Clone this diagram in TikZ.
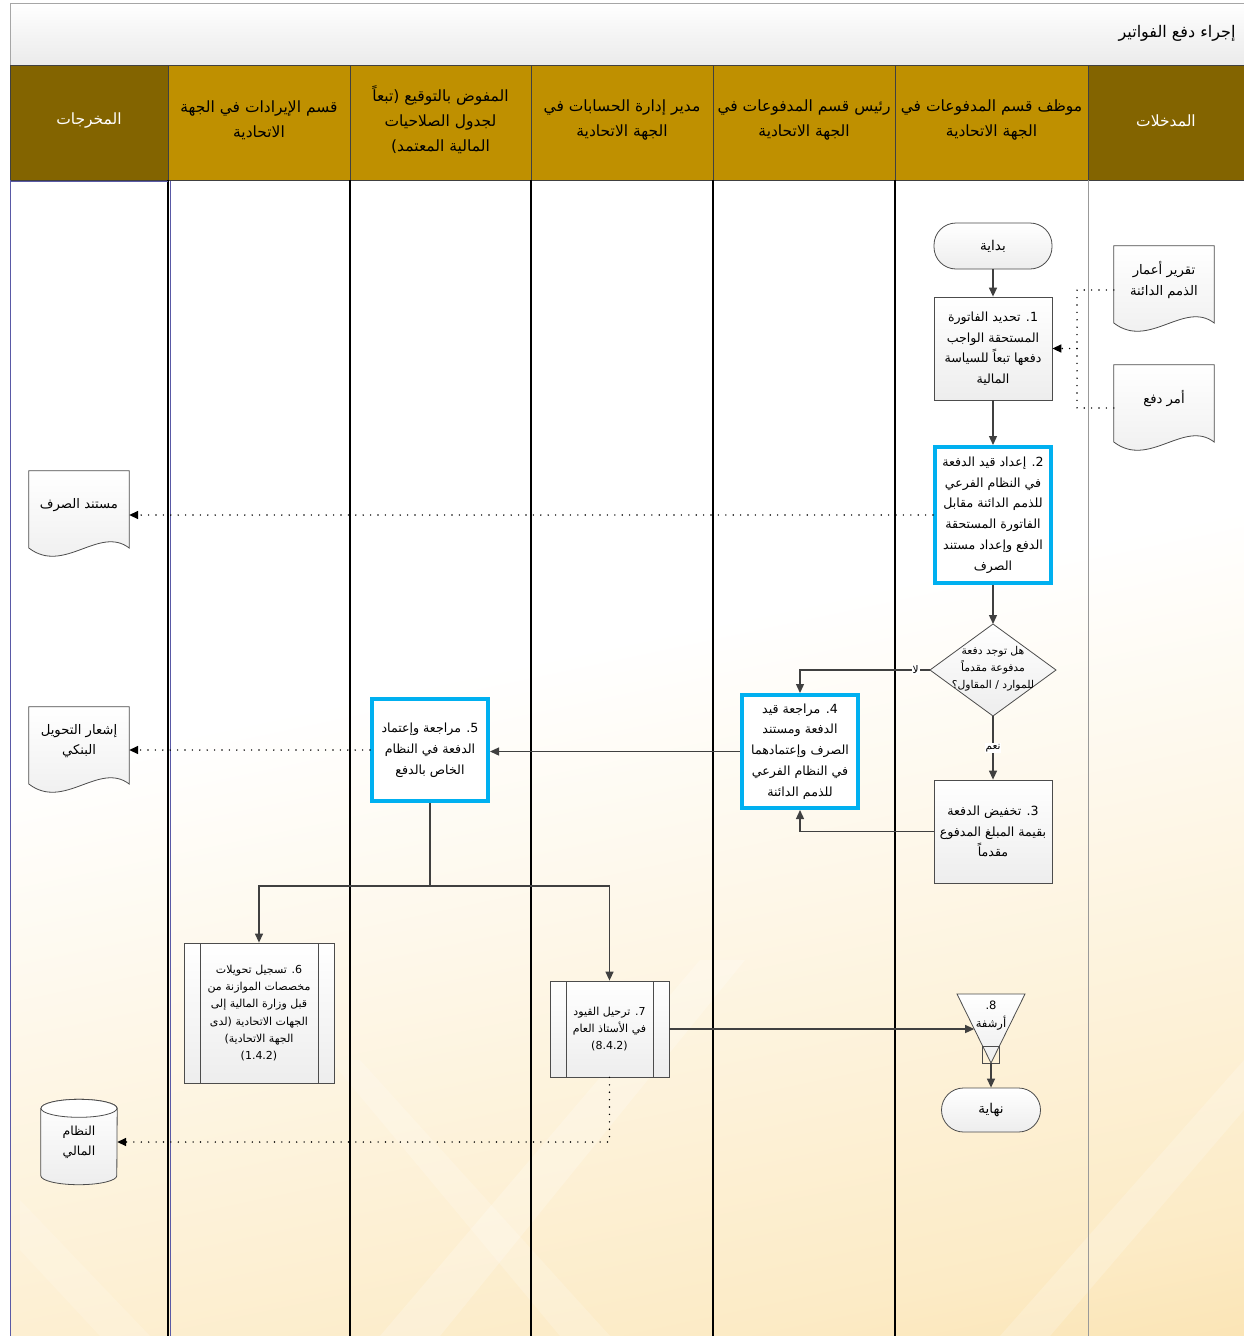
\documentclass[tikz,border=0pt]{standalone}
\usepackage{fontspec}
\setmainfont{DejaVu Sans}
\newfontfamily\arabicfont[Script=Arabic]{DejaVu Sans}
\usetikzlibrary{arrows.meta,positioning,calc,shapes.geometric}
\TeXXeTstate=1
\newcommand{\rtl}[1]{\beginR #1\endR}

\definecolor{laneGold}{HTML}{BF9000}
\definecolor{laneDark}{HTML}{836400}
\definecolor{keyBlue}{HTML}{00B0F0}
\definecolor{flowGray}{HTML}{404040}
\definecolor{bgWarm}{HTML}{F6CB72}
\definecolor{bgSoft}{HTML}{FCEBC6}

\pgfdeclareverticalshading{lanebg}{100bp}{color(0bp)=(bgWarm); color(25bp)=(bgSoft); color(55bp)=(white); color(100bp)=(white)}
\pgfdeclarelayer{back}
\pgfdeclarelayer{shapes}
\pgfsetlayers{back,shapes,main}

% document symbol drawn round a node
\newcommand{\docshape}[1]{%
  \shadedraw[docline] (#1.north west) -- (#1.north east) -- ([shift={(0,43)}]#1.east)
    .. controls ([shift={(-30,20)}]#1.east) and ([shift={(35,70)}]#1.west) .. ([shift={(0,43)}]#1.west) -- cycle;}

\begin{document}
\begin{tikzpicture}[x=1pt, y=-1pt,
    lanehead/.style={align=center, inner sep=0pt, font=\arabicfont\fontsize{15.5}{25}\selectfont},
    stepbox/.style={draw=gray!60!black, line width=0.8pt, top color=white, bottom color=gray!14,
      minimum width=118, minimum height=103, align=center, inner sep=1pt,
      font=\arabicfont\fontsize{12.6}{20.6}\selectfont},
    keybox/.style={draw=keyBlue, line width=4pt, fill=white, minimum width=116, align=center,
      inner sep=1pt, font=\arabicfont\fontsize{12.6}{20.8}\selectfont},
    termbox/.style={draw=gray!60!black, line width=0.8pt, rounded corners=22pt, top color=white,
      bottom color=gray!14, minimum width=118, minimum height=46,
      font=\arabicfont\fontsize{13.5}{16}\selectfont},
    subbox/.style={draw=gray!60!black, line width=0.8pt, top color=white, bottom color=gray!14,
      align=center, inner sep=1pt, font=\arabicfont\fontsize{11}{17.2}\selectfont,
      path picture={\draw[gray!60!black, line width=0.8pt]
        ([xshift=16pt]path picture bounding box.north west) -- ([xshift=16pt]path picture bounding box.south west)
        ([xshift=-16pt]path picture bounding box.north east) -- ([xshift=-16pt]path picture bounding box.south east);}},
    docbox/.style={minimum width=100, minimum height=68, align=center, inner sep=0pt,
      font=\arabicfont\fontsize{13.2}{20.5}\selectfont},
    docline/.style={draw=gray!60!black, line width=0.8pt, top color=white, bottom color=gray!14},
    flow/.style={draw=flowGray, line width=1.3pt, -{Triangle[length=9pt,width=8pt]}},
    flowline/.style={draw=flowGray, line width=1.3pt},
    dotline/.style={draw=black, line width=1.6pt, dash pattern=on 0pt off 7.4pt, line cap=round},
    dotarrow/.style={dotline, -{Triangle[length=9pt,width=8pt]}},
    tag/.style={fill=white, inner sep=1pt, font=\arabicfont\fontsize{10.5}{12}\selectfont}]

\useasboundingbox (0,0) rectangle (1244,1336);

\begin{pgfonlayer}{back}
  % lane area
  \shade[shading=lanebg, shading angle=12] (10,180) rectangle (1244,1336);
  \fill[white, fill opacity=0.22] (380,1336) -- (700,960) -- (745,960) -- (440,1336) -- cycle;
  \fill[white, fill opacity=0.18] (560,1336) -- (330,1060) -- (360,1060) -- (610,1336) -- cycle;
  \fill[white, fill opacity=0.2] (1000,1336) -- (1244,1060) -- (1244,1110) -- (1050,1336) -- cycle;
  \fill[white, fill opacity=0.15] (150,1336) -- (20,1200) -- (20,1250) -- (100,1336) -- cycle;
  % title bar
  \shadedraw[top color=white, bottom color=gray!16, draw=gray!70, line width=0.8pt] (10,3) rectangle (1244,65);
  % header cells
  \foreach \xa/\xb/\col in {10/168/laneDark, 168/350/laneGold, 350/531/laneGold, 531/713/laneGold,
      713/895/laneGold, 895/1088/laneGold, 1088/1244/laneDark}
    \filldraw[fill=\col, draw=black!75, line width=1pt] (\xa,65) rectangle (\xb,180);
  % lane borders
  \foreach \xs in {168,350,531,713,895}
    \draw[black, line width=1.25pt] (\xs,180) -- (\xs,1336);
  \draw[gray!80, line width=1pt] (1088,180) -- (1088,1336);
  \draw[blue!30!gray, line width=1pt] (10,181) -- (168,181) (10,180) -- (10,1336) (170,181) -- (170,1336);
\end{pgfonlayer}

% title and lane headers
\node[anchor=east, font=\arabicfont\fontsize{16}{18}\selectfont] (title) at (1239,33) {\rtl{إجراء دفع الفواتير}};
\node[lanehead, text=white] (hOut) at (89,121) {\rtl{المخرجات}};
\node[lanehead] (hRev) at (259,120) {\rtl{قسم الإيرادات في الجهة}\\\rtl{الاتحادية}};
\node[lanehead] (hSign) at (440.5,120) {\rtl{المفوض بالتوقيع (تبعاً}\\\rtl{لجدول الصلاحيات}\\\rtl{المالية المعتمد)}};
\node[lanehead] (hAcc) at (622,120) {\rtl{مدير إدارة الحسابات في}\\\rtl{الجهة الاتحادية}};
\node[lanehead] (hHead) at (804,120) {\rtl{رئيس قسم المدفوعات في}\\\rtl{الجهة الاتحادية}};
\node[lanehead] (hClerk) at (991.5,120) {\rtl{موظف قسم المدفوعات في}\\\rtl{الجهة الاتحادية}};
\node[lanehead, text=white] (hIn) at (1166,121) {\rtl{المدخلات}};

% payments clerk
\node[termbox] (start) at (993,246) {\rtl{بداية}};
\node[stepbox] (s1) at (993,348.5) {\rtl{1. تحديد الفاتورة}\\\rtl{المستحقة الواجب}\\\rtl{دفعها تبعاً للسياسة}\\\rtl{المالية}};
\node[keybox, minimum height=136] (s2) at (993,515) {\rtl{2. إعداد قيد الدفعة}\\\rtl{في النظام الفرعي}\\\rtl{للذمم الدائنة مقابل}\\\rtl{الفاتورة المستحقة}\\\rtl{الدفع وإعداد مستند}\\\rtl{الصرف}};
\node[align=center, inner sep=0pt, font=\arabicfont\fontsize{10.8}{17}\selectfont] (dec) at (993,669) {\rtl{هل توجد دفعة}\\\rtl{مدفوعة مقدماً}\\\rtl{للموارد / المقاول؟}};
\coordinate (decN) at (993,624);
\coordinate (decE) at (1056,670);
\coordinate (decS) at (993,716);
\coordinate (decW) at (930,670);
\node[stepbox] (s3) at (993,831.5) {\rtl{3. تخفيض الدفعة}\\\rtl{بقيمة المبلغ المدفوع}\\\rtl{مقدماً}};

% head of payments, signatory
\node[keybox, minimum height=113] (s4) at (800,751.5) {\rtl{4. مراجعة قيد}\\\rtl{الدفعة ومستند}\\\rtl{الصرف وإعتمادهما}\\\rtl{في النظام الفرعي}\\\rtl{للذمم الدائنة}};
\node[keybox, minimum height=102] (s5) at (430,750) {\rtl{5. مراجعة وإعتماد}\\\rtl{الدفعة في النظام}\\\rtl{الخاص بالدفع}};

% revenue and accounts
\node[subbox, minimum width=150, minimum height=140] (s6) at (259,1013) {\rtl{6. تسجيل تحويلات}\\\rtl{مخصصات الموازنة من}\\\rtl{قبل وزارة المالية إلى}\\\rtl{الجهات الاتحادية (لدى}\\\rtl{الجهة الاتحادية)}\\(1.4.2)};
\node[subbox, minimum width=119, minimum height=96] (s7) at (609.5,1029) {\rtl{7. ترحيل القيود}\\\rtl{في الأستاذ العام}\\(8.4.2)};

% archive and end
\node[align=center, inner sep=0pt, font=\arabicfont\fontsize{11.5}{18}\selectfont] (arch) at (991,1016) {\rtl{8.}\\\rtl{أرشفة}};
\coordinate (archin) at ([shift={(-16.8,13)}]arch.center);
\coordinate (archout) at ([shift={(0,47)}]arch.center);
\node[termbox, minimum width=99, minimum height=44] (end) at (991,1110) {\rtl{نهاية}};

% inputs and outputs
\node[docbox] (in1) at (1164,280) {\rtl{تقرير أعمار}\\\rtl{الذمم الدائنة}};
\node[docbox] (in2) at (1164,399) {\rtl{أمر دفع}};
\node[docbox] (out1) at (79,505) {\rtl{مستند الصرف}};
\node[docbox] (out2) at (79,741) {\rtl{إشعار التحويل}\\\rtl{البنكي}};
\node[minimum width=76, minimum height=85, align=center, inner sep=0pt,
  font=\arabicfont\fontsize{12.5}{20}\selectfont] (db) at (79,1142) {\rtl{النظام}\\\rtl{المالي}};

\begin{pgfonlayer}{shapes}
  \docshape{in1}
  \docshape{in2}
  \docshape{out1}
  \docshape{out2}
  % decision
  \shadedraw[docline] (decN) -- (decE) -- (decS) -- (decW) -- cycle;
  % database
  \shadedraw[docline] ([shift={(0,9)}]db.north west) -- ([shift={(0,-9)}]db.south west)
    arc[start angle=180, end angle=360, x radius=38pt, y radius=9pt]
    -- ([shift={(0,9)}]db.north east)
    arc[start angle=0, end angle=180, x radius=38pt, y radius=9pt] -- cycle;
  \draw[docline, top color=white, bottom color=white] ([shift={(0,9)}]db.north) ellipse [x radius=38pt, y radius=9pt];
  % archive triangle
  \shadedraw[docline] ([shift={(-34,-22)}]arch.center) -- ([shift={(34,-22)}]arch.center) -- (archout) -- cycle;
  \draw[gray!60!black, line width=0.8pt] ([shift={(-8.5,30)}]arch.center) rectangle ([shift={(8.5,47)}]arch.center);
\end{pgfonlayer}

% flow
\coordinate (jx) at (1077,348.5);
\coordinate (split) at (430,886);
\draw[flow] (start) -- (s1);
\draw[dotline] ([shift={(0,10)}]in1.west) -| (jx);
\draw[dotline] ([shift={(0,9)}]in2.west) -| (jx);
\draw[dotarrow] (jx) -- (s1.east);
\draw[flow] (s1) -- (s2);
\draw[dotarrow] (s2.west) -- (s2.west -| out1.east);
\draw[flow] (s2) -- (decN);
\draw[flow] (decW) -| node[tag, pos=0.055] {\rtl{لا}} (s4.north);
\draw[flow] (decS) -- node[tag] {\rtl{نعم}} (s3.north);
\draw[flow] (s3.west) -| (s4.south);
\draw[flow] (s4.west) -- (s4.west -| s5.east);
\draw[dotarrow] (s5.west) -- (s5.west -| out2.east);
\draw[flowline] (s5) -- (split);
\draw[flow] (split) -| (s6);
\draw[flow] (split) -| (s7);
\draw[flow] (s7.east) -- (archin);
\draw[dotarrow] (s7.south) |- (db.east);
\draw[flow] (archout) -- (end);
\end{tikzpicture}
\end{document}
